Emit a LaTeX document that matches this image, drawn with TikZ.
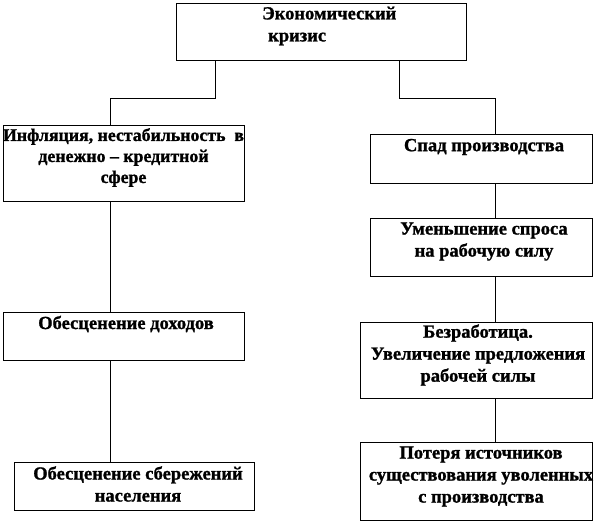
\documentclass[tikz,border=0pt]{standalone}
\usepackage{fontspec}
\setmainfont[BoldFeatures={FakeBold=1.2}]{Liberation Serif}
\begin{document}
\begin{tikzpicture}[x=1pt,y=-1pt,
  box/.style={draw,line width=0.9pt,inner sep=0pt,minimum width=#1},
  txt/.style={font=\bfseries\fontsize{18.5}{22}\selectfont,align=center,inner sep=0pt},
  link/.style={line width=0.9pt}]
\useasboundingbox (0,0) rectangle (601,522);
% boxes
\node[box=290pt,minimum height=57pt] (top) at (321,31.5) {};
\node[box=241.6pt,minimum height=76.7pt] (infl) at (123.8,163.3) {};
\node[box=221.4pt,minimum height=49pt] (spad) at (481.3,158.5) {};
\node[box=221.4pt,minimum height=58pt] (umen) at (481.3,247) {};
\node[box=232pt,minimum height=76pt] (bezr) at (476,360) {};
\node[box=232pt,minimum height=78pt] (poter) at (476,481) {};
\node[box=241.6pt,minimum height=48pt] (doh) at (123.8,336) {};
\node[box=240pt,minimum height=48pt] (sber) at (134,486) {};
% texts
\node[txt,align=left,anchor=west] (ttop) at (262,26) {Экономический\\\hspace*{6pt}кризис};
\node[txt,font=\bfseries\fontsize{17.8}{21}\selectfont] (tinfl) at (123.5,157.5) {Инфляция, нестабильность\ \ в\\денежно – кредитной\\сфере};
\node[txt] (tspad) at (484,147) {Спад производства};
\node[txt] (tumen) at (484,241.5) {Уменьшение спроса\\на рабочую силу};
\node[txt] (tbezr) at (478,355) {Безработица.\\Увеличение предложения\\рабочей силы};
\node[txt] (tpoter) at (481,476.5) {Потеря источников\\существования уволенных\\с производства};
\node[txt] (tdoh) at (126,324) {Обесценение доходов};
\node[txt] (tsber) at (138,484) {Обесценение сбережений\\населения};
% connectors
\coordinate (c1) at (215,98);
\coordinate (c2) at (110.5,98);
\coordinate (c3) at (399.5,98);
\coordinate (c4) at (495,98);
\draw[link] (top.south -| c1) -- (c1) -- (c2) -- (c2 |- infl.north);
\draw[link] (top.south -| c3) -- (c3) -- (c4) -- (c4 |- spad.north);
\draw[link] (infl.south -| c2) -- (doh.north -| c2);
\draw[link] (doh.south -| c2) -- (sber.north -| c2);
\draw[link] (spad.south -| c4) -- (umen.north -| c4);
\draw[link] (umen.south -| c4) -- (bezr.north -| c4);
\draw[link] (bezr.south -| c4) -- (poter.north -| c4);
\end{tikzpicture}
\end{document}
